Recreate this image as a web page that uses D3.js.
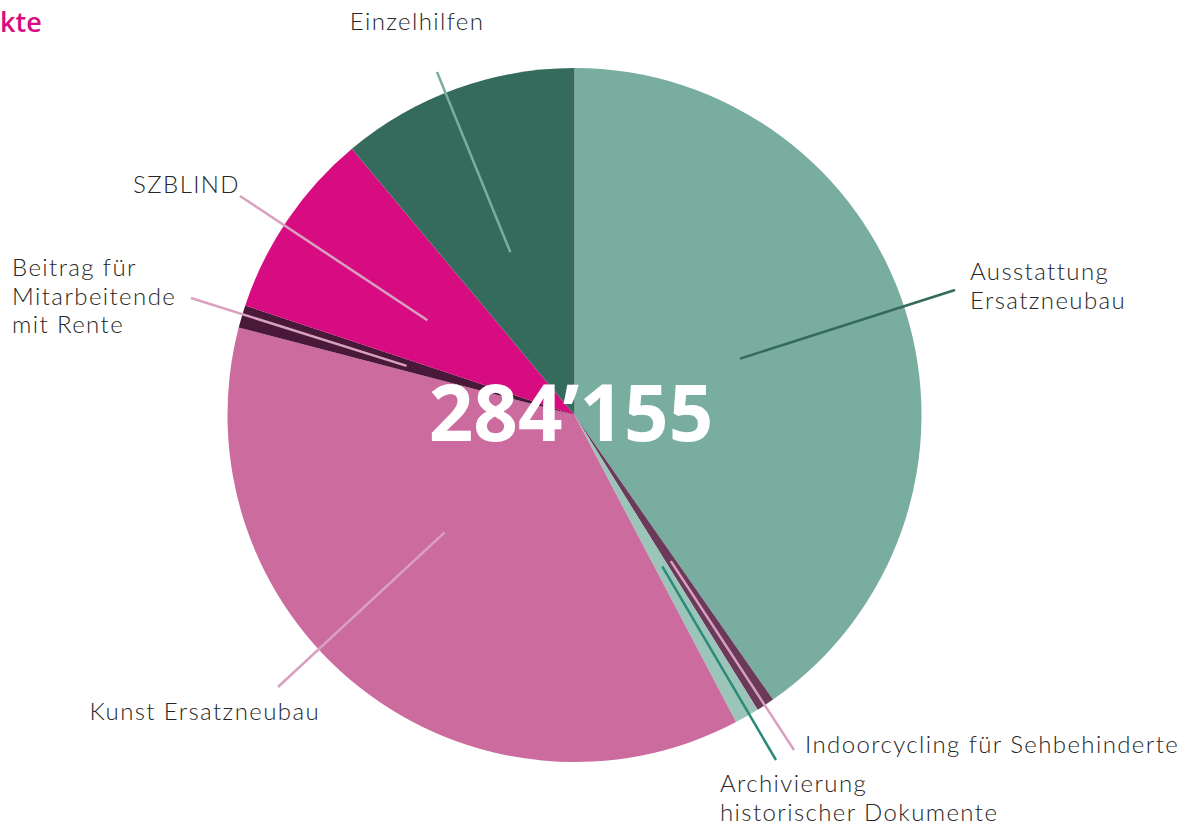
<!DOCTYPE html>
<html><head><meta charset="utf-8">
<script src="https://cdn.jsdelivr.net/npm/d3@7"></script>
<style>
html,body{margin:0;padding:0;background:#fff;}
svg{display:block;}
.lbl{font-family:Lato,"Open Sans",sans-serif;font-weight:300;font-size:24px;letter-spacing:1.4px;fill:#262626;}
</style></head>
<body>
<script>
// ---- data ----
const categories = ["Ausstattung Ersatzneubau","Indoorcycling für Sehbehinderte","Archivierung historischer Dokumente","Kunst Ersatzneubau","Beitrag für Mitarbeitende mit Rente","SZBLIND","Einzelhilfen"];
const values = [114530, 2407, 3236, 104467, 2999, 25021, 31495];
const colors = ["#79ADA0","#6B3A5A","#9CC5B9","#CC6B9E","#4A1838","#D70C80","#346B5D"];
const totalLabel = "284’155";
const title = "kte";
const labelLines = [["Ausstattung","Ersatzneubau"],["Indoorcycling für Sehbehinderte"],["Archivierung","historischer Dokumente"],["Kunst Ersatzneubau"],["Beitrag für","Mitarbeitende","mit Rente"],["SZBLIND"],["Einzelhilfen"]];
const leaderColors = ["#346B5D","#D9A0C0","#2A8C78","#D9A0C0","#D9A0C0","#D9A0C0","#79ADA0"];
// label layout: inner leader angle (deg), outer leader end, text anchor point
const layout = [
  {ang:71.2, ox:955, oy:290, tx:970, ty:280, anchor:"start"},
  {ang:146.6, ox:794, oy:750, tx:805, ty:753, anchor:"start"},
  {ang:149.9, ox:776, oy:760, tx:720, ty:792, anchor:"start"},
  {ang:227.9, ox:278, oy:687, tx:320, ty:720, anchor:"end"},
  {ang:286.3, ox:191, oy:298, tx:12, ty:276, anchor:"start"},
  {ang:302.8, ox:240, oy:196, tx:240, ty:193, anchor:"end"},
  {ang:338.5, ox:437, oy:72, tx:417, ty:30, anchor:"middle"}
];

const W = 1199, H = 831, cx = 574.5, cy = 415, R = 347;
const svg = d3.select("body").append("svg").attr("width", W).attr("height", H);

svg.append("text").attr("x", 0).attr("y", 32).attr("text-anchor","start")
  .style("font-family","'Open Sans',sans-serif").style("font-weight","600")
  .style("font-size","27px").style("fill","#D70C80").text(title);

const pie = d3.pie().sort(null).value(d => d)(values);
const arc = d3.arc().innerRadius(0).outerRadius(R);
const g = svg.append("g").attr("transform", `translate(${cx},${cy})`);
g.selectAll("path.slice").data(pie).join("path").attr("class","slice")
  .attr("d", arc).attr("fill", (d,i) => colors[i]);

// leaders
const rIn = 175;
g.selectAll("line.leader").data(layout).join("line").attr("class","leader")
  .each(function(d,i){
    const p = d3.pointRadial(d.ang*Math.PI/180, rIn);
    d3.select(this).attr("x1", p[0]).attr("y1", p[1])
      .attr("x2", d.ox - cx).attr("y2", d.oy - cy);
  })
  .attr("stroke", (d,i) => leaderColors[i]).attr("stroke-width", 2.5);

// labels
layout.forEach((d,i) => {
  const t = svg.append("text").attr("class","lbl").attr("x", d.tx).attr("y", d.ty)
    .attr("text-anchor", d.anchor);
  labelLines[i].forEach((s,j) => {
    t.append("tspan").attr("x", d.tx).attr("dy", j===0 ? 0 : 28.5).text(s);
  });
});

svg.append("text").attr("x", 571).attr("y", 441).attr("text-anchor","middle")
  .style("font-family","'Open Sans',sans-serif").style("font-weight","700")
  .style("font-size","78px").style("fill","#fff").text(totalLabel);
</script>
</body></html>
